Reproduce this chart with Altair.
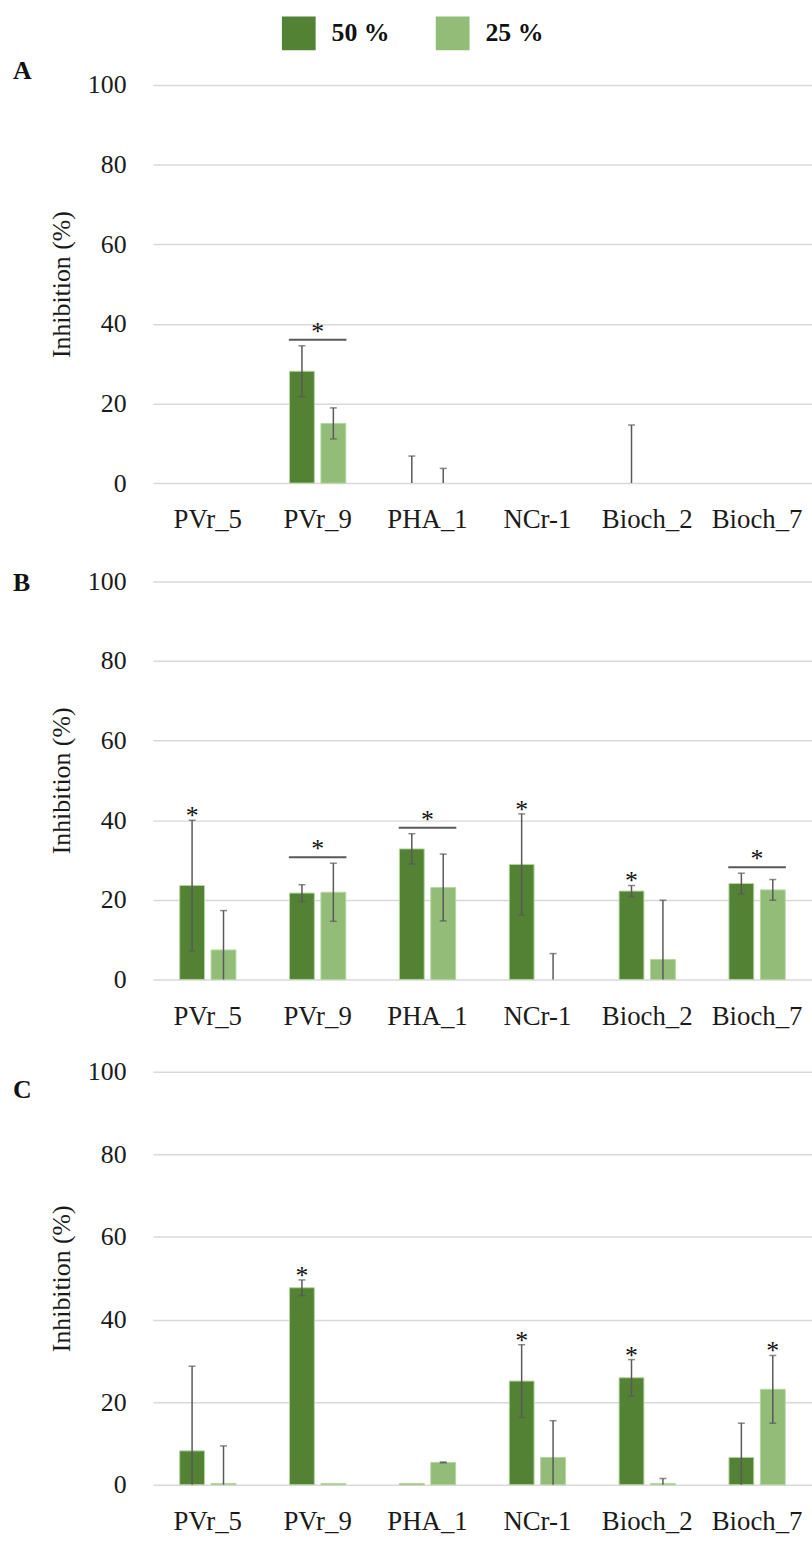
import altair as alt
import pandas as pd

FONT = "Liberation Serif"
TEXT = "#1a1a1a"

categories = ["PVr_5", "PVr_9", "PHA_1", "NCr-1", "Bioch_2", "Bioch_7"]
series = ["50 %", "25 %"]
colors = ["#548235", "#92BC78"]
panel_letters = ["A", "B", "C"]

# Panel A: mean inhibition (%) and standard deviation per isolate
a_mean_50 = [0, 28.1, 0, 0, 0, 0]
a_sd_50 = [0, 6.4, 6.8, 0, 14.6, 0]
a_mean_25 = [0, 15.0, 0, 0, 0, 0]
a_sd_25 = [0, 3.9, 3.7, 0, 0, 0]
a_sig_pairs = ["PVr_9"]
a_sig_single = []

# Panel B
b_mean_50 = [23.6, 21.7, 32.8, 28.9, 22.2, 24.1]
b_sd_50 = [16.4, 2.1, 3.8, 12.7, 1.4, 2.6]
b_mean_25 = [7.4, 21.9, 23.1, 0, 5.0, 22.5]
b_sd_25 = [9.9, 7.3, 8.4, 6.5, 14.9, 2.6]
b_sig_pairs = ["PVr_9", "PHA_1", "Bioch_7"]
b_sig_single = [("PVr_5", "50 %"), ("NCr-1", "50 %"), ("Bioch_2", "50 %")]

# Panel C
c_mean_50 = [8.2, 47.7, 0.3, 25.1, 25.9, 6.6]
c_sd_50 = [20.5, 1.9, 0, 8.8, 4.4, 8.3]
c_mean_25 = [0.3, 0.3, 5.4, 6.6, 0.3, 23.1]
c_sd_25 = [9.1, 0, 0.1, 8.9, 1.2, 8.2]
c_sig_pairs = []
c_sig_single = [("PVr_9", "50 %"), ("NCr-1", "50 %"), ("Bioch_2", "50 %"), ("Bioch_7", "25 %")]

y_ticks = [0, 20, 40, 60, 80, 100]


def long_table(m50, s50, m25, s25):
    rows = []
    for ser, means, sds in ((series[0], m50, s50), (series[1], m25, s25)):
        for cat, m, s in zip(categories, means, sds):
            rows.append({
                "category": cat,
                "series": ser,
                "mean": m,
                "sd": s,
                "lower": max(0.0, m - s),
                "upper": m + s,
            })
    return pd.DataFrame(rows)


def x_enc():
    return alt.X(
        "category:N",
        sort=categories,
        scale=alt.Scale(domain=categories, range=[0, 664],
                        paddingInner=0.488, paddingOuter=0.244),
        axis=alt.Axis(title=None, labelAngle=0, labelFont=FONT, labelFontSize=27,
                      labelColor=TEXT, labelPadding=24, ticks=False, domain=False,
                      grid=False),
    )


def off_enc():
    return alt.XOffset("series:N", sort=series,
                       scale=alt.Scale(domain=series, paddingInner=0.21))


def y_enc(field):
    return alt.Y(
        f"{field}:Q",
        scale=alt.Scale(domain=[0, 100], nice=False),
        axis=alt.Axis(values=y_ticks, title="Inhibition (%)",
                      titleFont=FONT, titleFontSize=26, titleFontWeight="normal",
                      titleColor=TEXT, titlePadding=13,
                      labelFont=FONT, labelFontSize=26, labelColor=TEXT,
                      labelPadding=27, ticks=False, domain=False,
                      gridColor="#D9D9D9", gridWidth=1.5),
    )


def panel(letter, m50, s50, m25, s25, pairs, singles, height, letter_dy):
    df = long_table(m50, s50, m25, s25)
    base = alt.Chart(df)

    bars = base.transform_filter("datum.mean > 0").mark_bar(
        stroke="#B4D69E", strokeWidth=1
    ).encode(
        x=x_enc(),
        xOffset=off_enc(),
        y=y_enc("mean"),
        color=alt.Color("series:N", sort=series,
                        scale=alt.Scale(domain=series, range=colors),
                        legend=alt.Legend(title=None)),
    )

    err = base.transform_filter("datum.sd > 0")
    stems = err.mark_rule(color="#595959", strokeWidth=1.5).encode(
        x=x_enc(), xOffset=off_enc(),
        y=y_enc("lower"),
        y2="upper:Q",
    )
    caps_top = err.mark_tick(color="#595959", thickness=1.5, size=7,
                             orient="horizontal").encode(
        x=x_enc(), xOffset=off_enc(), y=y_enc("upper"),
    )
    caps_low = err.transform_filter("datum.lower > 0").mark_tick(
        color="#595959", thickness=1.5, size=7, orient="horizontal"
    ).encode(
        x=x_enc(), xOffset=off_enc(), y=y_enc("lower"),
    )

    layers = [bars, stems, caps_top, caps_low]

    if pairs:
        pair_df = (df[df["category"].isin(pairs)]
                   .groupby("category", as_index=False)["upper"].max())
        pair_base = alt.Chart(pair_df)
        line = pair_base.mark_tick(color="#111111", thickness=2, size=58,
                                   orient="horizontal", yOffset=-6).encode(
            x=x_enc(), y=y_enc("upper"),
        )
        star = pair_base.mark_text(text="*", font=FONT, fontSize=26, color="#111111",
                                   baseline="alphabetic", dy=-6).encode(
            x=x_enc(), y=y_enc("upper"),
        )
        layers += [line, star]

    if singles:
        keys = pd.DataFrame(singles, columns=["category", "series"])
        single_df = keys.merge(df, on=["category", "series"])
        star1 = alt.Chart(single_df).mark_text(text="*", font=FONT, fontSize=26,
                                               color="#111111", baseline="alphabetic",
                                               dy=4).encode(
            x=x_enc(), xOffset=off_enc(), y=y_enc("upper"),
        )
        layers.append(star1)

    tag = alt.Chart(pd.DataFrame({"t": [letter]})).mark_text(
        align="left", baseline="middle", font=FONT, fontSize=26,
        fontWeight="bold", color="#111111"
    ).encode(text="t:N", x=alt.value(-141), y=alt.value(letter_dy))
    layers.append(tag)

    return alt.layer(*layers).properties(width=658, height=height)


pA = panel(panel_letters[0], a_mean_50, a_sd_50, a_mean_25, a_sd_25,
           a_sig_pairs, a_sig_single, 401, -14)
pB = panel(panel_letters[1], b_mean_50, b_sd_50, b_mean_25, b_sd_25,
           b_sig_pairs, b_sig_single, 401, 2)
pC = panel(panel_letters[2], c_mean_50, c_sd_50, c_mean_25, c_sd_25,
           c_sig_pairs, c_sig_single, 416, 18)

top = alt.vconcat(pA, pB, spacing=36).resolve_scale(
    x="independent", y="independent", xOffset="independent", color="shared")
chart = alt.vconcat(top, pC, spacing=30).resolve_scale(
    x="independent", y="independent", xOffset="independent", color="shared"
).configure_view(stroke=None).configure_legend(
    orient="none", legendX=130, legendY=-69, direction="horizontal",
    symbolType="square", symbolSize=1156, symbolStrokeWidth=0,
    labelFont=FONT, labelFontSize=26, labelFontWeight="bold", labelColor="#111111",
    labelOffset=16, columnPadding=46, padding=0,
).properties(
    padding={"left": 13, "top": 11, "right": 0, "bottom": 0},
    background="white",
)

chart.save("out.html", embed_options={"renderer": "svg", "actions": False})
